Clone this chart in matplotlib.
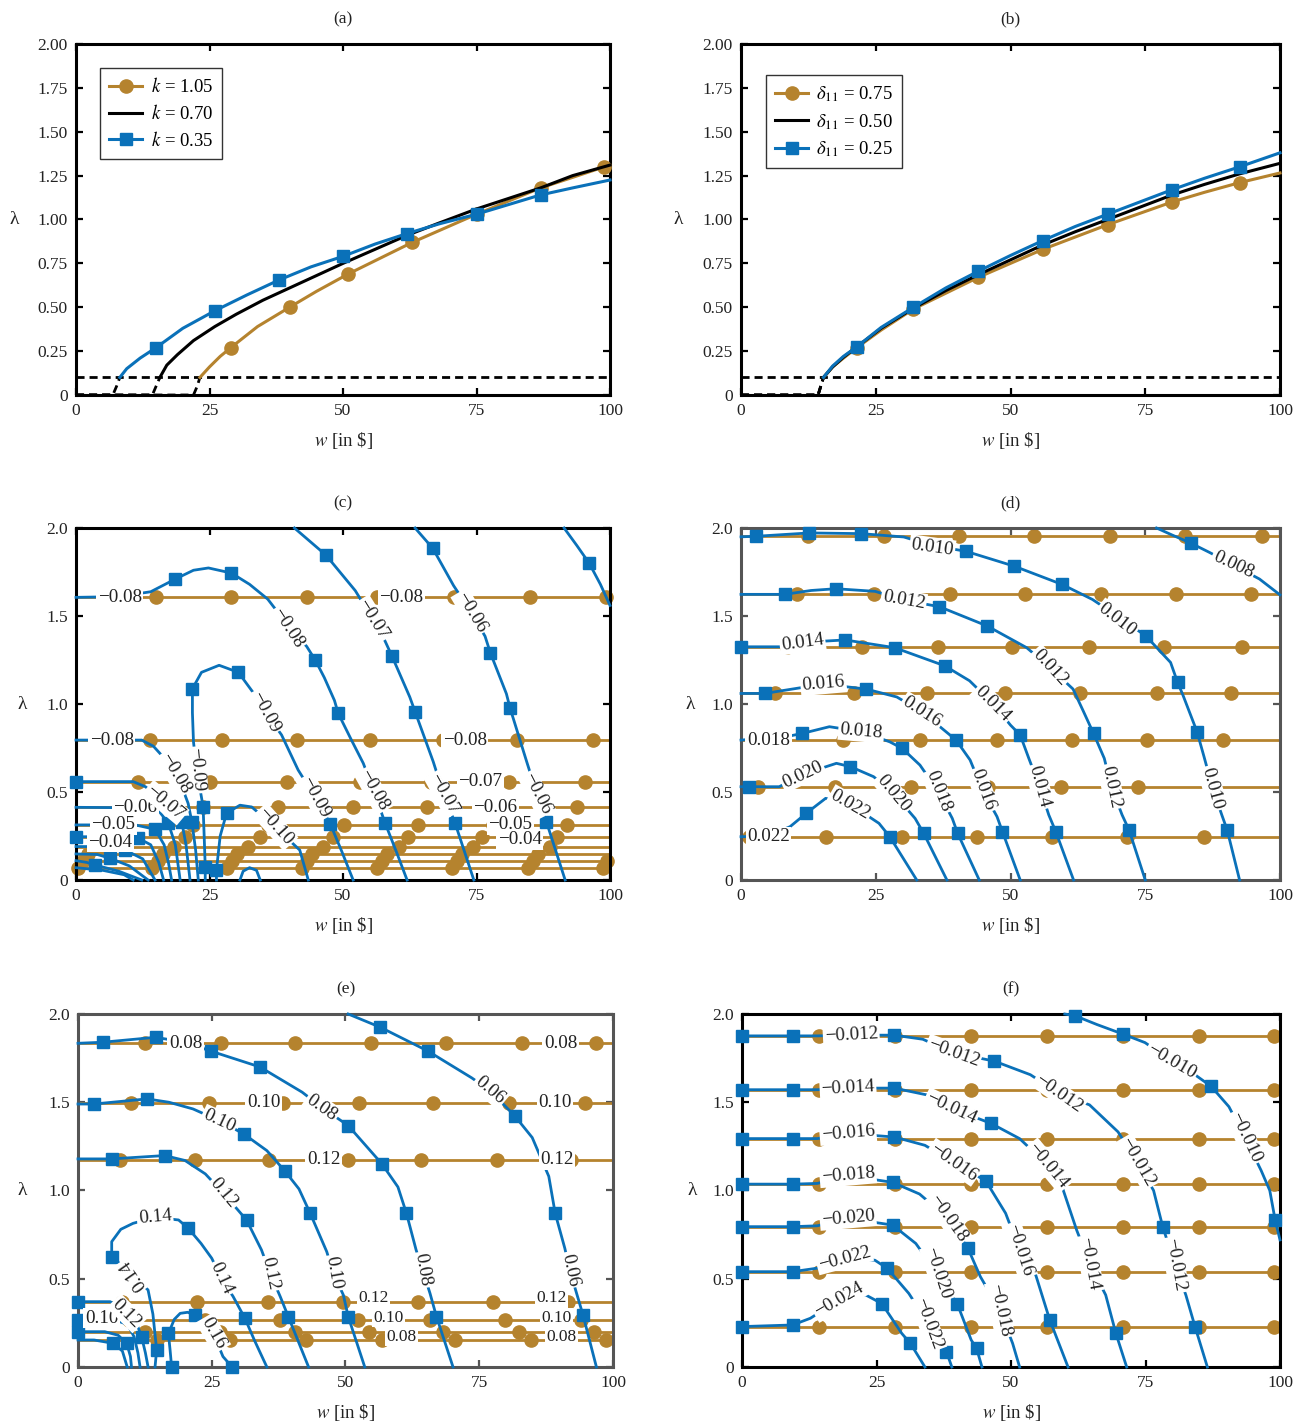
import matplotlib.pyplot as plt
import numpy as np

plt.rcParams['font.family'] = ['Liberation Serif', 'DejaVu Serif']
plt.rcParams['mathtext.fontset'] = 'stix'

GOLD = '#B5832E'
BLUE = '#0A71B9'
INK = '#222222'
MINUS = '\u2212'

# ---------------- (a) lambda vs w for three k ----------------
a_labels = [r'$k$ = 1.05', r'$k$ = 0.70', r'$k$ = 0.35']
a_gold_w = [0, 22.0, 22.7, 23.2, 25, 27, 29, 34, 40, 45, 51, 57, 63, 69, 75, 81, 87, 93, 98.9, 100]
a_gold_lam = [0, 0, 0.05, 0.10, 0.16, 0.22, 0.27, 0.39, 0.50, 0.59, 0.69, 0.78, 0.87, 0.95, 1.03, 1.105, 1.18, 1.24, 1.30, 1.31]
a_gold_mk = [6, 8, 10, 12, 14, 16, 18]
a_black_w = [0, 14.3, 15.0, 15.7, 17, 19, 22, 26, 30, 35, 40, 45, 50, 56, 62, 68, 75, 81, 87, 93, 100]
a_black_lam = [0, 0, 0.05, 0.10, 0.17, 0.23, 0.31, 0.39, 0.46, 0.54, 0.61, 0.68, 0.75, 0.83, 0.91, 0.98, 1.06, 1.12, 1.18, 1.25, 1.31]
a_blue_w = [0, 6.9, 7.6, 8.2, 9.5, 12, 15, 20, 26, 32, 38, 44, 50, 56, 62, 68, 75, 81, 87, 93, 100]
a_blue_lam = [0, 0, 0.05, 0.10, 0.15, 0.21, 0.27, 0.38, 0.48, 0.57, 0.655, 0.73, 0.79, 0.86, 0.92, 0.975, 1.03, 1.085, 1.14, 1.18, 1.225]
a_blue_mk = [6, 8, 10, 12, 14, 16, 18]

# ---------------- (b) lambda vs w for three delta_11 ----------------
b_labels = [r'$\delta_{11}$ = 0.75', r'$\delta_{11}$ = 0.50', r'$\delta_{11}$ = 0.25']
b_w = [0, 14.3, 14.8, 15.3, 17, 19, 21.5, 26, 32, 38, 44, 50, 56, 62, 68, 74, 80, 86, 92.5, 100]
b_gold_lam = [0, 0, 0.05, 0.10, 0.16, 0.21, 0.27, 0.37, 0.49, 0.58, 0.67, 0.75, 0.83, 0.90, 0.97, 1.035, 1.10, 1.155, 1.21, 1.265]
b_black_lam = [0, 0, 0.05, 0.10, 0.16, 0.215, 0.275, 0.38, 0.495, 0.595, 0.685, 0.77, 0.855, 0.93, 1.0, 1.07, 1.14, 1.20, 1.26, 1.32]
b_blue_lam = [0, 0, 0.05, 0.10, 0.165, 0.22, 0.275, 0.385, 0.50, 0.61, 0.705, 0.795, 0.88, 0.96, 1.03, 1.10, 1.17, 1.235, 1.30, 1.38]
b_mk = [6, 8, 10, 12, 14, 16, 18]

lam_threshold = 0.1

# ---------------- (c) contours ----------------
c_gold_lam = [1.606, 0.795, 0.559, 0.413, 0.313, 0.246, 0.19, 0.148, 0.11, 0.07]
c_gold_marks = [
    [15, 29.1, 43.2, 56.3, 70.7, 85.1, 99.3],
    [13.9, 27.3, 41.3, 55.1, 68.8, 82.5, 96.9],
    [11.7, 25.1, 39.5, 53.2, 66.5, 81, 95.3],
    [9.8, 23.8, 37.9, 51.9, 65.7, 79.4, 93.8],
    [8, 22, 36, 50.1, 64, 78, 92],
    [6.5, 20.5, 34.5, 48.2, 62.2, 76, 90],
    [4.3, 18.3, 32.3, 46.3, 60.4, 74.4, 88.8],
    [2.2, 16.2, 30.2, 44.2, 58.2, 72.2, 86.5],
    [1.3, 15.3, 29.3, 43.3, 57.3, 71.3, 85.6, 99.5],
    [0.3, 14.3, 28.3, 42.3, 56.3, 70.4, 84.7, 98.7],
]
c_blue_w = [
    [0, 8, 14, 18.6, 22, 24.8, 29.1, 32.5, 35.9, 39.6, 43.2, 44.8, 46.5, 48.4, 49.1, 51.5, 53.8, 55.7, 57.9, 60, 62],
    [40.9, 46.8, 52.3, 55.6, 57.9, 59.2, 62.5, 63.5, 66.9, 68.8, 71, 74.5],
    [63.5, 66.8, 70.7, 74, 76.6, 77.6, 80.6, 81.3, 84.4, 86.3, 88.1, 91.6],
    [91.4, 93.8, 96.1, 98.2, 100],
    [24.2, 24.2, 24.0, 23.8, 22.6, 22.0, 21.8, 21.8, 23.5, 26.8, 30.4, 33.3, 35.4, 38.5, 41.6, 44.8, 47.6, 49.8, 51.9],
    [26.3, 26.3, 27.0, 28.2, 30.7, 32.9, 35.0, 37.3, 39.8, 41.9, 43.5],
    [30.7, 31.3, 32.5, 33.8, 34.5],
    [0, 12.3, 14.5, 15.7, 18.5, 20.2, 21.0, 21.7, 22.4, 22.9],
    [0, 10.7, 13.0, 16.7, 18.5, 19.8, 20.6, 21.35],
    [0, 13.0, 15.4, 17.3, 18.6, 19.5],
    [0, 11.1, 14.8, 16.5, 17.3, 17.9],
    [0, 8.0, 11.7, 14.0, 15.5, 16.4],
    [0, 6.0, 9.2, 12.5, 14.8],
    [0, 4.0, 6.4, 10.0, 13.5],
    [0, 2.0, 3.6, 8.0, 12.3],
    [0, 5.0, 9.0, 10.7],
]
c_blue_lam = [
    [1.606, 1.61, 1.638, 1.71, 1.76, 1.773, 1.744, 1.68, 1.596, 1.45, 1.327, 1.25, 1.15, 1.02, 0.947, 0.8, 0.663, 0.511, 0.322, 0.16, 0.0],
    [2.0, 1.846, 1.644, 1.48, 1.356, 1.27, 1.04, 0.956, 0.672, 0.49, 0.322, 0.0],
    [2.0, 1.885, 1.673, 1.52, 1.385, 1.29, 1.058, 0.975, 0.672, 0.49, 0.33, 0.0],
    [2.0, 1.9, 1.8, 1.68, 1.56],
    [0.0, 0.076, 0.25, 0.417, 0.625, 0.785, 0.95, 1.087, 1.18, 1.22, 1.18, 1.06, 0.955, 0.824, 0.625, 0.47, 0.32, 0.16, 0.0],
    [0.0, 0.057, 0.25, 0.38, 0.425, 0.415, 0.36, 0.303, 0.23, 0.17, 0.0],
    [0.0, 0.05, 0.07, 0.055, 0.0],
    [0.795, 0.795, 0.76, 0.72, 0.606, 0.5, 0.435, 0.33, 0.17, 0.0],
    [0.559, 0.559, 0.53, 0.44, 0.38, 0.33, 0.2, 0.0],
    [0.413, 0.41, 0.397, 0.322, 0.2, 0.0],
    [0.313, 0.313, 0.288, 0.2, 0.1, 0.0],
    [0.246, 0.245, 0.237, 0.2, 0.1, 0.0],
    [0.19, 0.19, 0.17, 0.12, 0.0],
    [0.148, 0.145, 0.123, 0.08, 0.0],
    [0.11, 0.1, 0.085, 0.05, 0.0],
    [0.07, 0.055, 0.03, 0.0],
]
c_blue_mk = [[3, 6, 11, 14, 18], [1, 5, 7, 10], [1, 5, 7, 10], [2], [1, 3, 7, 10, 16], [1, 3], [],
             [7], [0, 5], [3], [2], [0, 2], [2], [2], [2], []]
c_labels = [
    (-0.08, 8.2, 1.606, 0), (-0.08, 60.9, 1.606, 0), (-0.08, 6.7, 0.795, 0), (-0.08, 72.8, 0.795, 0),
    (-0.07, 75.7, 0.559, 0), (-0.06, 78.5, 0.413, 0), (-0.05, 81.3, 0.313, 0), (-0.04, 83.1, 0.228, 0),
    (-0.06, 11.1, 0.41, 0), (-0.05, 7.0, 0.313, 0), (-0.04, 6.4, 0.215, 0),
    (-0.08, 39.6, 1.43, -57), (-0.08, 55.7, 0.511, -61), (-0.07, 55.6, 1.48, -58), (-0.07, 68.8, 0.49, -61),
    (-0.06, 74.0, 1.52, -59), (-0.06, 86.3, 0.49, -63), (-0.09, 22.6, 0.625, -85), (-0.09, 35.4, 0.955, -62),
    (-0.09, 44.8, 0.47, -62), (-0.10, 37.3, 0.303, -48), (-0.08, 18.5, 0.606, -59), (-0.07, 16.7, 0.44, -40),
]

# ---------------- (d) contours ----------------
d_gold_lam = [1.953, 1.623, 1.325, 1.06, 0.795, 0.53, 0.246]
d_gold_marks = [
    [12.4, 26.6, 40.4, 54.3, 68.5, 82.4, 96.6],
    [10.4, 24.6, 38.8, 52.6, 66.8, 80.7, 94.6],
    [8.5, 22.5, 36.5, 50.3, 64.5, 78.4, 92.9],
    [6.4, 20.9, 34.5, 49.0, 62.9, 77.1, 91.0],
    [5.0, 19.0, 33.2, 47.5, 61.4, 75.3, 89.5],
    [3.1, 17.4, 31.6, 45.8, 59.4, 73.6, 87.8],
    [1.5, 15.7, 29.9, 43.8, 57.7, 71.7, 85.9],
]
d_blue_w = [
    [0, 2.8, 12.7, 22.3, 30.2, 35.5, 41.7, 50.7, 59.6, 65.2, 69.8, 75.1, 79.7, 81.0, 82.0, 84.6, 85.9, 87.5, 89.2, 90.2, 92.5],
    [77.1, 80.0, 83.4, 87.0, 91.3, 96.2, 100],
    [0, 8.1, 13.0, 17.6, 24.9, 30.2, 36.8, 45.7, 53.0, 57.3, 61.6, 63.5, 65.4, 67.4, 68.7, 70.7, 72.0, 75.0],
    [0, 7.1, 11.4, 19.3, 28.5, 37.8, 42.4, 46.8, 50.0, 51.8, 53.4, 55.4, 57.1, 58.4, 61.7],
    [0, 4.4, 15.3, 23.2, 28.9, 33.6, 39.9, 42.5, 44.8, 47.5, 48.5, 51.8],
    [0, 8.5, 11.4, 16.4, 22.3, 27.6, 29.9, 33.2, 36.6, 39.2, 40.2, 44.2],
    [0, 1.5, 7.1, 11.4, 17.7, 20.3, 24.6, 28.3, 32.3, 33.9, 38.2],
    [0, 5.0, 9.1, 12.1, 15.7, 20.3, 25.6, 27.6, 32.6],
]
d_blue_lam = [
    [1.95, 1.953, 1.972, 1.968, 1.949, 1.9, 1.868, 1.783, 1.679, 1.594, 1.5, 1.387, 1.236, 1.123, 1.05, 0.843, 0.701, 0.521, 0.37, 0.284, 0.0],
    [2.0, 1.96, 1.915, 1.86, 1.79, 1.71, 1.62],
    [1.623, 1.623, 1.645, 1.655, 1.64, 1.59, 1.553, 1.443, 1.32, 1.208, 1.085, 0.96, 0.833, 0.691, 0.53, 0.37, 0.284, 0.0],
    [1.325, 1.325, 1.35, 1.364, 1.32, 1.217, 1.132, 1.0, 0.88, 0.824, 0.691, 0.53, 0.37, 0.275, 0.0],
    [1.06, 1.06, 1.113, 1.085, 1.04, 0.955, 0.795, 0.682, 0.511, 0.36, 0.275, 0.0],
    [0.795, 0.815, 0.833, 0.871, 0.843, 0.785, 0.748, 0.653, 0.502, 0.35, 0.265, 0.0],
    [0.53, 0.53, 0.53, 0.6, 0.663, 0.644, 0.587, 0.492, 0.35, 0.265, 0.0],
    [0.246, 0.25, 0.303, 0.379, 0.464, 0.43, 0.322, 0.246, 0.0],
]
d_blue_mk = [[1, 2, 3, 6, 7, 8, 11, 13, 15, 19], [2], [1, 3, 6, 7, 12, 16], [0, 3, 4, 5, 9, 13],
             [1, 3, 6, 10], [2, 6, 10], [1, 5, 9], [3, 7]]
d_labels = [
    (0.010, 35.5, 1.89, -8), (0.010, 69.8, 1.48, -38), (0.010, 87.5, 0.521, -75),
    (0.008, 91.3, 1.79, -25),
    (0.012, 30.2, 1.59, -10), (0.012, 57.3, 1.208, -47), (0.012, 68.7, 0.53, -78),
    (0.014, 11.4, 1.35, 8), (0.014, 46.7, 1.0, -45), (0.014, 55.4, 0.53, -75),
    (0.016, 15.3, 1.113, 5), (0.016, 33.6, 0.955, -33), (0.016, 44.8, 0.511, -70),
    (0.018, 5.1, 0.795, 0), (0.018, 22.3, 0.843, -5), (0.018, 36.6, 0.502, -68),
    (0.020, 11.4, 0.6, 25), (0.020, 28.3, 0.492, -50),
    (0.022, 5.1, 0.246, 0), (0.022, 20.3, 0.43, -30),
]

# ---------------- (e) contours ----------------
e_gold_lam = [1.834, 1.496, 1.175, 0.37, 0.266, 0.2, 0.153]
e_gold_marks = [
    [12.5, 26.8, 40.6, 54.8, 68.7, 82.9, 96.8],
    [9.9, 24.4, 38.3, 52.5, 66.4, 80.6, 94.8],
    [7.9, 21.8, 35.7, 50.5, 64.1, 78.3, 92.1],
    [8.2, 22.2, 35.6, 49.6, 63.6, 77.6, 91.6],
    [9.5, 23.8, 37.8, 52.4, 65.8, 79.8, 94.0],
    [12.5, 26.5, 40.6, 54.3, 68.3, 82.4, 96.4],
    [14.7, 28.4, 42.7, 56.8, 70.5, 84.7, 98.7],
]
e_blue_w = [
    [0, 4.6, 14.5, 20.0, 24.8, 34.0, 41.9, 45.6, 50.5, 56.8, 59.8, 61.4, 63.2, 64.4, 65.8, 67.0, 70.1],
    [50.5, 56.5, 65.4, 73.6, 77.0, 81.6, 84.9, 88.0, 89.2, 91.0, 91.9, 93.2, 94.4, 96.9],
    [0, 3.0, 12.9, 17.0, 21.5, 26.4, 31.0, 35.3, 38.6, 41.3, 43.4, 46.5, 47.7, 49.6, 50.5, 53.6],
    [0, 6.3, 16.2, 20.0, 23.8, 27.2, 31.5, 34.3, 35.9, 37.8, 39.3, 43.1],
    [14.4, 14.7, 14.0, 13.1, 10.3, 6.3, 6.3, 8.0, 10.3, 14.4, 18.8, 20.6, 23.0, 25.0, 26.8, 29.0, 31.2, 33.0, 35.3],
    [17.5, 17.2, 16.9, 18.0, 19.1, 20.5, 21.9, 25.3, 27.1, 28.8],
    [0, 6.0, 9.1, 10.8, 11.9, 12.6, 13.1],
    [0, 7.0, 9.3, 10.5, 11.2, 11.6],
    [0, 5.0, 7.5, 9.1, 9.8, 10.0],
    [0, 3.0, 6.6, 8.3, 9.2],
]
e_blue_lam = [
    [1.834, 1.84, 1.868, 1.84, 1.79, 1.7, 1.557, 1.47, 1.368, 1.151, 1.02, 0.87, 0.663, 0.55, 0.417, 0.286, 0.0],
    [2.0, 1.925, 1.79, 1.638, 1.566, 1.424, 1.3, 1.08, 0.87, 0.672, 0.55, 0.417, 0.294, 0.0],
    [1.49, 1.49, 1.519, 1.5, 1.462, 1.396, 1.32, 1.226, 1.113, 1.009, 0.871, 0.653, 0.532, 0.408, 0.286, 0.0],
    [1.179, 1.179, 1.198, 1.17, 1.094, 0.984, 0.833, 0.663, 0.531, 0.399, 0.286, 0.0],
    [0.0, 0.097, 0.3, 0.436, 0.52, 0.625, 0.71, 0.78, 0.814, 0.848, 0.833, 0.786, 0.7, 0.616, 0.502, 0.399, 0.276, 0.15, 0.0],
    [0.0, 0.1, 0.19, 0.27, 0.304, 0.31, 0.293, 0.19, 0.059, 0.0],
    [0.37, 0.37, 0.32, 0.26, 0.17, 0.08, 0.0],
    [0.266, 0.266, 0.24, 0.17, 0.08, 0.0],
    [0.2, 0.2, 0.18, 0.134, 0.06, 0.0],
    [0.153, 0.153, 0.134, 0.09, 0.0],
]
e_blue_mk = [[1, 2, 4, 5, 8, 9, 11, 15], [1, 2, 5, 8, 12], [1, 2, 6, 8, 10, 14], [1, 2, 6, 10],
             [1, 5, 11, 16], [0, 2, 6, 9], [0, 4], [0], [0, 3], [2]]
e_labels = [
    (0.08, 20.1, 1.834, 0), (0.08, 90.2, 1.834, 0), (0.10, 34.7, 1.496, 0), (0.10, 89.2, 1.496, 0),
    (0.12, 45.9, 1.175, 0), (0.12, 89.5, 1.175, 0), (0.10, 4.4, 0.276, 0), (0.12, 9.1, 0.304, -45),
    (0.08, 45.6, 1.47, -35), (0.08, 64.4, 0.55, -80), (0.06, 77.0, 1.566, -40), (0.06, 91.9, 0.55, -78),
    (0.10, 26.4, 1.396, -25), (0.10, 47.7, 0.532, -80), (0.12, 27.2, 0.984, -50), (0.12, 35.9, 0.531, -78),
    (0.14, 14.4, 0.848, 5), (0.14, 10.3, 0.52, 125), (0.14, 26.8, 0.502, -65), (0.16, 25.3, 0.19, -60),
]
# stacked labels on the closely spaced low gold lines of (e)
e_labels_low = [
    (0.12, 55.2, 0.39, 0), (0.12, 88.5, 0.39, 0), (0.10, 58.0, 0.28, 0), (0.10, 89.5, 0.28, 0),
    (0.08, 60.4, 0.17, 0), (0.08, 90.4, 0.17, 0),
]

# ---------------- (f) contours ----------------
f_gold_lam = [1.876, 1.571, 1.294, 1.036, 0.795, 0.54, 0.229]
f_gold_marks_w = [14.4, 28.5, 42.6, 56.7, 70.8, 84.9, 98.9]
f_blue_w = [
    [0, 9.4, 14.0, 20.3, 28.3, 33.6, 39.3, 46.9, 53.6, 58.9, 64.6, 69.9, 73.5, 76.5, 78.2, 80.5, 82.5, 84.2, 86.5],
    [60.0, 61.9, 66.0, 70.9, 74.9, 79.9, 84.0, 87.2, 90.5, 93.5, 96.5, 98.1, 99.1, 100],
    [0, 9.4, 14.0, 19.7, 28.3, 34.3, 38.9, 46.3, 51.6, 56.9, 59.6, 62.2, 64.6, 67.6, 69.5, 71.5],
    [0, 9.4, 14.0, 19.7, 28.3, 34.0, 39.3, 45.3, 49.0, 51.6, 54.6, 57.2, 60.6],
    [0, 9.4, 14.0, 19.7, 28.0, 33.0, 38.3, 42.0, 44.3, 47.9, 50.3, 51.6],
    [0, 9.4, 14.0, 19.7, 28.0, 32.3, 36.3, 40.0, 42.6, 43.6, 44.6],
    [0, 9.4, 14.0, 19.0, 24.7, 27.0, 31.0, 34.6, 38.0, 39.0],
    [0, 9.4, 12.7, 18.0, 23.0, 26.0, 29.7, 31.3, 34.0],
]
f_blue_lam = [
    [1.876, 1.876, 1.876, 1.88, 1.88, 1.857, 1.78, 1.733, 1.656, 1.551, 1.485, 1.332, 1.16, 1.0, 0.795, 0.578, 0.408, 0.229, 0.0],
    [2.0, 1.99, 1.94, 1.885, 1.838, 1.733, 1.66, 1.59, 1.475, 1.30, 1.113, 1.0, 0.833, 0.72],
    [1.571, 1.571, 1.571, 1.58, 1.58, 1.542, 1.466, 1.38, 1.294, 1.141, 1.012, 0.776, 0.587, 0.408, 0.19, 0.0],
    [1.294, 1.294, 1.294, 1.323, 1.303, 1.256, 1.16, 1.055, 0.871, 0.663, 0.521, 0.267, 0.0],
    [1.036, 1.036, 1.04, 1.084, 1.046, 0.98, 0.842, 0.672, 0.512, 0.323, 0.134, 0.0],
    [0.795, 0.795, 0.8, 0.842, 0.804, 0.7, 0.531, 0.359, 0.153, 0.106, 0.0],
    [0.54, 0.54, 0.56, 0.616, 0.605, 0.559, 0.417, 0.247, 0.087, 0.0],
    [0.229, 0.238, 0.276, 0.379, 0.408, 0.359, 0.19, 0.134, 0.0],
]
f_blue_mk = [[0, 1, 4, 7, 14, 17], [1, 3, 7, 12], [0, 1, 4, 7, 14], [0, 1, 4, 7, 11],
             [0, 1, 4, 7], [0, 1, 4, 7, 9], [0, 1, 5, 8], [0, 1, 5, 7]]
f_labels = [
    (-0.012, 20.3, 1.88, 3), (-0.012, 39.3, 1.78, -20), (-0.012, 58.9, 1.551, -35), (-0.012, 73.5, 1.16, -60),
    (-0.012, 80.5, 0.578, -80), (-0.010, 79.9, 1.733, -30), (-0.010, 93.5, 1.30, -65),
    (-0.014, 19.7, 1.58, 3), (-0.014, 38.9, 1.466, -25), (-0.014, 56.9, 1.141, -50), (-0.014, 64.6, 0.587, -80),
    (-0.016, 19.7, 1.323, 5), (-0.016, 39.3, 1.16, -35), (-0.016, 51.6, 0.663, -72),
    (-0.018, 19.7, 1.084, 5), (-0.018, 38.3, 0.842, -55), (-0.018, 47.9, 0.323, -78),
    (-0.020, 19.7, 0.842, 5), (-0.020, 36.3, 0.531, -72),
    (-0.022, 19.0, 0.616, 15), (-0.022, 34.6, 0.247, -70),
    (-0.024, 18.0, 0.379, 30),
]

FS_TICK = 12.5
FS_LAB = 13.8


def setup_axes(ax, yticks, yticklabels, frame, ylab_x, title):
    ax.set_xlim(0, 100)
    ax.set_ylim(0, 2)
    ax.set_xticks([0, 25, 50, 75, 100])
    ax.set_yticks(yticks)
    ax.set_yticklabels(yticklabels)
    ax.tick_params(direction='in', top=True, right=True, length=5, width=1.6, color=frame,
                   labelsize=FS_TICK, labelcolor=INK, pad=6)
    for s in ax.spines.values():
        s.set_linewidth(2.2)
        s.set_color(frame)
    ax.set_xlabel(r'$w$ [in \$]', fontsize=13.5, color=INK)
    ax.xaxis.set_label_coords(0.5, -0.1)
    ax.set_ylabel('λ', rotation=0, fontsize=14, color=INK, va='center', ha='center')
    ax.yaxis.set_label_coords(ylab_x, 0.5)
    ax.set_title(title, fontsize=12.5, pad=15, color=INK)


def draw_gold(ax, levels, marks):
    for lam, mw in zip(levels, marks):
        ax.plot([0, 100], [lam, lam], color=GOLD, lw=2, zorder=2, clip_on=False)
        ax.plot(mw, [lam] * len(mw), 'o', color=GOLD, ms=9.5, zorder=2, clip_on=False)


def draw_blue(ax, ws, lams, mks):
    for w, lam, mk in zip(ws, lams, mks):
        if mk:
            ax.plot(w, lam, color=BLUE, lw=2, marker='s', ms=8, markevery=mk, zorder=3, clip_on=False)
        else:
            ax.plot(w, lam, color=BLUE, lw=2, zorder=3, clip_on=False)


def put_labels(ax, labels, fmt, size=FS_LAB):
    for val, w, lam, ang in labels:
        txt = fmt.format(val).replace('-', MINUS)
        ax.text(w, lam, txt, rotation=ang, rotation_mode='anchor', ha='center', va='center',
                fontsize=size, color=INK, zorder=6,
                bbox=dict(boxstyle='square,pad=0.08', fc='white', ec='none'))


def line_panel(ax, w_list, lam_list, colors, markers, mks, labels, anchor):
    handles = []
    for w, lam, col, m, mk in zip(w_list, lam_list, colors, markers, mks):
        ax.plot(w[:4], lam[:4], color='k', lw=2, dashes=(2.9, 1.8), zorder=3)
        h, = ax.plot(w[3:], lam[3:], color=col, lw=2.2, marker=m, ms=9.5 if m == 'o' else 8.5,
                     markevery=[i - 3 for i in mk] if mk else None, zorder=4, clip_on=False)
        handles.append(h)
    ax.axhline(lam_threshold, color='k', lw=2, dashes=(2.9, 1.8), zorder=3)
    leg = ax.legend(handles, labels, loc='upper left', bbox_to_anchor=anchor, borderaxespad=0,
                    fontsize=13.5, frameon=True, fancybox=False, edgecolor='k',
                    handlelength=1.75, labelspacing=0.42, borderpad=0.5, handletextpad=0.45)
    leg.get_frame().set_linewidth(1.0)


fig = plt.figure(figsize=(13.03, 14.27), dpi=100)
ax_a = fig.add_axes([0.05833, 0.72320, 0.40983, 0.24597])
ax_b = fig.add_axes([0.56869, 0.72320, 0.41366, 0.24597])
ax_c = fig.add_axes([0.05833, 0.38332, 0.40983, 0.24667])
ax_d = fig.add_axes([0.56869, 0.38332, 0.41366, 0.24667])
ax_e = fig.add_axes([0.05986, 0.04205, 0.41059, 0.24737])
ax_f = fig.add_axes([0.56946, 0.04205, 0.41289, 0.24737])

yt_fine = [0, 0.25, 0.5, 0.75, 1.0, 1.25, 1.5, 1.75, 2.0]
yt_fine_lab = ['0', '0.25', '0.50', '0.75', '1.00', '1.25', '1.50', '1.75', '2.00']
yt_coarse = [0, 0.5, 1.0, 1.5, 2.0]
yt_coarse_lab = ['0', '0.5', '1.0', '1.5', '2.0']

# (a)
line_panel(ax_a, [a_gold_w, a_black_w, a_blue_w], [a_gold_lam, a_black_lam, a_blue_lam],
           [GOLD, 'k', BLUE], ['o', None, 's'], [a_gold_mk, None, a_blue_mk], a_labels, (0.045, 0.932))
setup_axes(ax_a, yt_fine, yt_fine_lab, 'k', -0.116, '(a)')

# (b)
line_panel(ax_b, [b_w, b_w, b_w], [b_gold_lam, b_black_lam, b_blue_lam],
           [GOLD, 'k', BLUE], ['o', None, 's'], [b_mk, None, b_mk], b_labels, (0.046, 0.912))
setup_axes(ax_b, yt_fine, yt_fine_lab, 'k', -0.117, '(b)')

# (c)
draw_gold(ax_c, c_gold_lam, c_gold_marks)
draw_blue(ax_c, c_blue_w, c_blue_lam, c_blue_mk)
put_labels(ax_c, c_labels, '{:.2f}')
setup_axes(ax_c, yt_coarse, yt_coarse_lab, 'k', -0.101, '(c)')

# (d)
draw_gold(ax_d, d_gold_lam, d_gold_marks)
draw_blue(ax_d, d_blue_w, d_blue_lam, d_blue_mk)
put_labels(ax_d, d_labels, '{:.3f}')
setup_axes(ax_d, yt_coarse, yt_coarse_lab, '#555555', -0.095, '(d)')

# (e)
draw_gold(ax_e, e_gold_lam, e_gold_marks)
draw_blue(ax_e, e_blue_w, e_blue_lam, e_blue_mk)
put_labels(ax_e, e_labels, '{:.2f}')
put_labels(ax_e, e_labels_low, '{:.2f}', size=12.5)
setup_axes(ax_e, yt_coarse, yt_coarse_lab, '#555555', -0.105, '(e)')

# (f)
draw_gold(ax_f, f_gold_lam, [f_gold_marks_w] * len(f_gold_lam))
draw_blue(ax_f, f_blue_w, f_blue_lam, f_blue_mk)
put_labels(ax_f, f_labels, '{:.3f}')
setup_axes(ax_f, yt_coarse, yt_coarse_lab, 'k', -0.093, '(f)')

fig.savefig('out.png', dpi=100)
